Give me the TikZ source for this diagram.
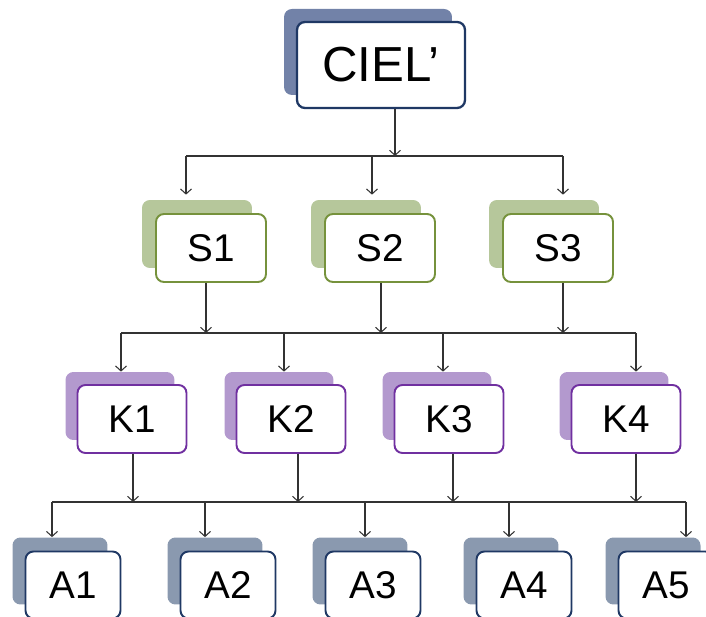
\documentclass[tikz,border=0pt]{standalone}
\usepackage{fontspec}
\setmainfont{Liberation Sans}
\usepackage{tikz}
\usetikzlibrary{arrows.meta,positioning,calc}

\definecolor{cielback}{RGB}{114,130,168}
\definecolor{cielline}{RGB}{31,56,100}
\definecolor{sback}{RGB}{182,199,155}
\definecolor{sline}{RGB}{118,146,60}
\definecolor{kback}{RGB}{179,153,206}
\definecolor{kline}{RGB}{112,48,160}
\definecolor{aback}{RGB}{138,153,175}
\definecolor{aline}{RGB}{31,56,100}

\begin{document}
\begin{tikzpicture}[x=0.02cm,y=-0.02cm,
		box/.style={rounded corners=4.5pt,inner sep=0pt,fill=white,line width=1.1pt},
		shade/.style={rounded corners=4.5pt,inner sep=0pt},
		cielbox/.style={box,draw=cielline,line width=1.3pt,minimum width=3.36cm,minimum height=1.72cm,font=\fontsize{28}{30}\selectfont},
		cielshade/.style={shade,fill=cielback,minimum width=3.36cm,minimum height=1.72cm},
		sbox/.style={box,draw=sline,minimum width=2.2cm,minimum height=1.36cm,font=\fontsize{22}{24}\selectfont},
		sshade/.style={shade,fill=sback,minimum width=2.2cm,minimum height=1.36cm},
		kbox/.style={box,draw=kline,minimum width=2.18cm,minimum height=1.36cm,font=\fontsize{22}{24}\selectfont},
		kshade/.style={shade,fill=kback,minimum width=2.18cm,minimum height=1.36cm},
		abox/.style={box,draw=aline,minimum width=1.9cm,minimum height=1.34cm,font=\fontsize{22}{24}\selectfont},
		ashade/.style={shade,fill=aback,minimum width=1.9cm,minimum height=1.34cm},
		arr/.style={-{Straight Barb[length=1mm,width=2.2mm]},line width=0.6pt,draw=black!80},
		bus/.style={line width=0.6pt,draw=black!80}]
		\clip (0,0) rectangle (706,617);

		% top
		\node[cielshade] (cielb) at (368,52) {};
		\node[cielbox] (ciel) at (381,65) {CIEL’};

		% S level
		\node[sshade] (s1b) at (197,234) {};
		\node[sbox] (s1) at (211,248) {S1};
		\node[sshade] (s2b) at (366,234) {};
		\node[sbox] (s2) at (380,248) {S2};
		\node[sshade] (s3b) at (544,234) {};
		\node[sbox] (s3) at (558,248) {S3};

		% K level
		\node[kshade] (k1b) at (120,406) {};
		\node[kbox] (k1) at (132,419) {K1};
		\node[kshade] (k2b) at (279,406) {};
		\node[kbox] (k2) at (291,419) {K2};
		\node[kshade] (k3b) at (437,406) {};
		\node[kbox] (k3) at (449,419) {K3};
		\node[kshade] (k4b) at (614,406) {};
		\node[kbox] (k4) at (626,419) {K4};

		% A level
		\node[ashade] (a1b) at (60,571) {};
		\node[abox] (a1) at (73,585) {A1};
		\node[ashade] (a2b) at (215,571) {};
		\node[abox] (a2) at (228,585) {A2};
		\node[ashade] (a3b) at (360,571) {};
		\node[abox] (a3) at (373,585) {A3};
		\node[ashade] (a4b) at (511,571) {};
		\node[abox] (a4) at (524,585) {A4};
		\node[ashade] (a5b) at (653,571) {};
		\node[abox] (a5) at (666,585) {A5};

		% bus coordinates
		\coordinate (up0) at (395,156);
		\coordinate (ds1) at (186,156);
		\coordinate (ds2) at (372,156);
		\coordinate (ds3) at (563,156);

		\coordinate (up1) at (206,333);
		\coordinate (up2) at (381,333);
		\coordinate (up3) at (563,333);
		\coordinate (dk1) at (121,333);
		\coordinate (dk2) at (284,333);
		\coordinate (dk3) at (443,333);
		\coordinate (dk4) at (636,333);

		\coordinate (uk1) at (133,502);
		\coordinate (uk2) at (298,502);
		\coordinate (uk3) at (453,502);
		\coordinate (uk4) at (636,502);
		\coordinate (da1) at (52,502);
		\coordinate (da2) at (205,502);
		\coordinate (da3) at (365,502);
		\coordinate (da4) at (509,502);
		\coordinate (da5) at (686,502);

		% CIEL -> S
		\draw[arr] (up0 |- ciel.south) -- (up0);
		\draw[bus] (ds1) -- (ds3);
		\draw[arr,shorten >=1mm] (ds1) -- (ds1 |- s1b.north);
		\draw[arr,shorten >=1mm] (ds2) -- (ds2 |- s2b.north);
		\draw[arr,shorten >=1mm] (ds3) -- (ds3 |- s3b.north);

		% S -> K
		\draw[arr] (up1 |- s1.south) -- (up1);
		\draw[arr] (up2 |- s2.south) -- (up2);
		\draw[arr] (up3 |- s3.south) -- (up3);
		\draw[bus] (dk1) -- (dk4);
		\draw[arr] (dk1) -- (dk1 |- k1b.north);
		\draw[arr] (dk2) -- (dk2 |- k2b.north);
		\draw[arr] (dk3) -- (dk3 |- k3b.north);
		\draw[arr] (dk4) -- (dk4 |- k4b.north);

		% K -> A
		\draw[arr] (uk1 |- k1.south) -- (uk1);
		\draw[arr] (uk2 |- k2.south) -- (uk2);
		\draw[arr] (uk3 |- k3.south) -- (uk3);
		\draw[arr] (uk4 |- k4.south) -- (uk4);
		\draw[bus] (da1) -- (da5);
		\draw[arr] (da1) -- (da1 |- a1b.north);
		\draw[arr] (da2) -- (da2 |- a2b.north);
		\draw[arr] (da3) -- (da3 |- a3b.north);
		\draw[arr] (da4) -- (da4 |- a4b.north);
		\draw[arr] (da5) -- (da5 |- a5b.north);
	\end{tikzpicture}
\end{document}
